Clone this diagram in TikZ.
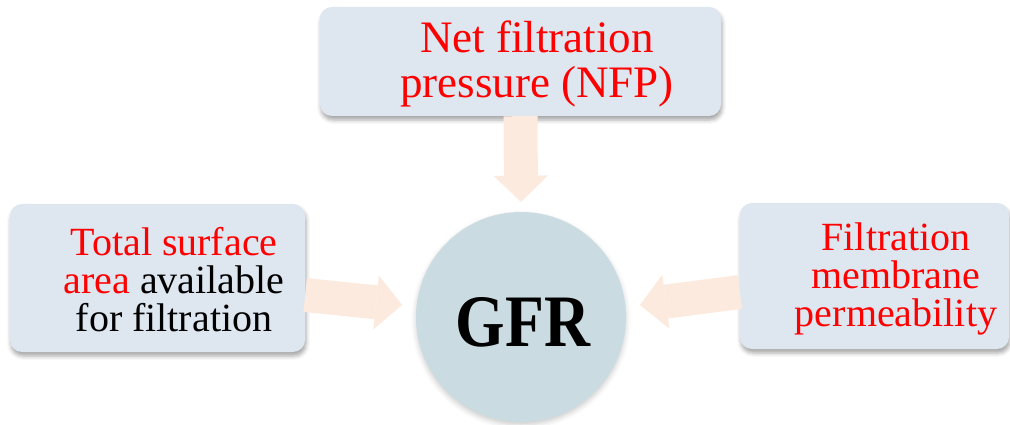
\documentclass[tikz,border=0pt]{standalone}
\usepackage{fontspec}
\setmainfont{Liberation Serif}
\usetikzlibrary{shadows.blur,arrows.meta,calc}
\definecolor{boxfill}{HTML}{DEE6F0}
\definecolor{circfill}{HTML}{CADCE2}
\definecolor{arrfill}{HTML}{FCEADE}
\definecolor{txtred}{HTML}{FF0000}
\begin{document}
\begin{tikzpicture}[x=1pt,y=-1pt,
  factorbox/.style={rounded corners=12pt, fill=boxfill, inner sep=0pt,
    blur shadow={shadow xshift=1pt,shadow yshift=-4pt,shadow blur radius=4pt,shadow opacity=35}},
  boxtext/.style={align=center, inner sep=0pt, font=\fontsize{40}{38}\selectfont},
  blockarrow/.style={draw=arrfill, line width=34pt,
    -{Triangle[width=54pt,length=26pt,line width=0.1pt]}}]
\useasboundingbox (0,0) rectangle (1010,425);
% boxes
\node[factorbox, minimum width=401pt, minimum height=109pt] (nfp) at (520.5,61.5) {};
\node[factorbox, minimum width=295pt, minimum height=148pt] (tsa) at (157.5,278) {};
\node[factorbox, minimum width=269pt, minimum height=146pt] (fmp) at (874.5,276) {};
% circle
\node[circle, fill=circfill, minimum size=210pt, inner sep=0pt,
  blur shadow={shadow xshift=0pt,shadow yshift=-3pt,shadow blur radius=5pt,shadow opacity=20}] (gfr) at (521,317) {};
% texts
\node[boxtext, font=\fontsize{45}{45}\selectfont, text=txtred] (nfpt) at (537,64) {Net filtration\\pressure (NFP)};
\node[boxtext] (tsat) at (174,280) {\textcolor{txtred}{Total surface}\\\textcolor{txtred}{area} available\\for filtration};
\node[boxtext, text=txtred] (fmpt) at (896,279) {Filtration\\membrane\\permeability};
\node[inner sep=0pt, font=\fontsize{74}{74}\selectfont\bfseries] (gfrt) at (523,322) {\scalebox{0.86}[1]{GFR}};
% arrows
\coordinate (a1s) at ($(nfp.south)$);
\coordinate (a1e) at ($(gfr.north)+(0,-10)$);
\coordinate (a2s) at ($(tsa.east)+(0,17)$);
\coordinate (a2e) at (402,305);
\coordinate (a3s) at ($(fmp.west)+(0,16)$);
\coordinate (a3e) at (640,305);
\draw[blockarrow] (a1s) -- (a1e);
\draw[blockarrow] (a2s) -- (a2e);
\draw[blockarrow] (a3s) -- (a3e);
\end{tikzpicture}
\end{document}
